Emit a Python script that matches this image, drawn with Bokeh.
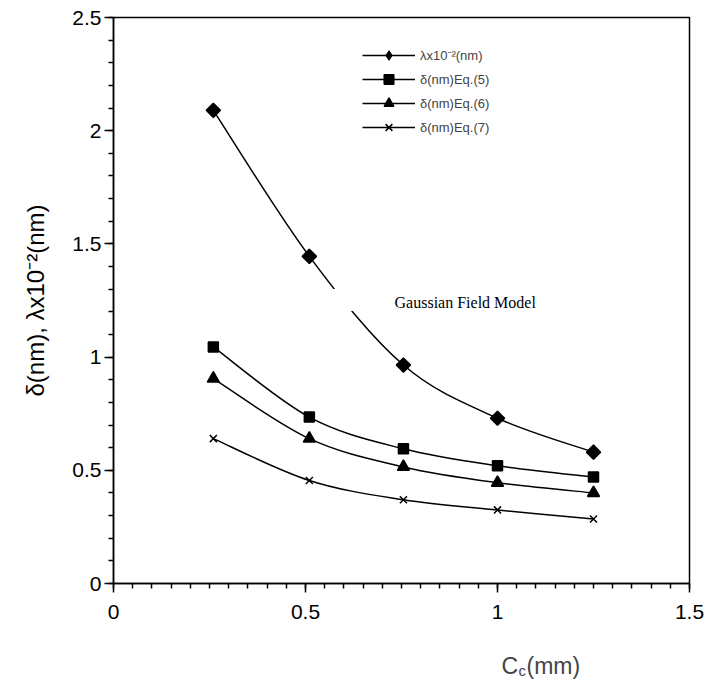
import numpy as np
from bokeh.plotting import figure
from bokeh.layouts import column
from bokeh.models import (FixedTicker, Legend, LegendItem, Label, ColumnDataSource)
from bokeh.embed import file_html
from bokeh.resources import INLINE

# ---- data ----
cc = [0.26, 0.51, 0.755, 1.0, 1.25]
lam = [2.09, 1.445, 0.965, 0.73, 0.58]
eq5 = [1.045, 0.735, 0.595, 0.52, 0.47]
eq6 = [0.905, 0.64, 0.515, 0.445, 0.40]
eq7 = [0.64, 0.455, 0.37, 0.325, 0.285]

series = [
    ("λx10⁻²(nm)", lam, "square", 10, 0.785398),
    ("δ(nm)Eq.(5)", eq5, "square", 10, 0.0),
    ("δ(nm)Eq.(6)", eq6, "triangle", 12, 0.0),
    ("δ(nm)Eq.(7)", eq7, "x", 10, 0.0),
]

FONT = "Liberation Sans"

p = figure(width=725, height=640, x_range=(0, 1.5), y_range=(0, 2.5),
           output_backend="svg", toolbar_location=None,
           min_border_left=113, min_border_right=36,
           min_border_top=17, min_border_bottom=57)
p.grid.visible = False
p.outline_line_color = "black"
p.outline_line_width = 1.5
p.background_fill_color = "white"
p.border_fill_color = "white"

for ax in (p.xaxis[0], p.yaxis[0]):
    ax.axis_line_width = 1.5
    ax.axis_line_color = "black"
    ax.major_tick_line_width = 1.5
    ax.minor_tick_line_width = 1.5
    ax.major_tick_line_color = "black"
    ax.minor_tick_line_color = "black"
    ax.major_tick_in = 0
    ax.major_tick_out = 9
    ax.minor_tick_in = 0
    ax.minor_tick_out = 5
    ax.major_label_text_font = FONT
    ax.major_label_text_font_size = "21px"
    ax.major_label_text_color = "black"
    ax.axis_label_text_font = FONT
    ax.axis_label_text_font_size = "24px"
    ax.axis_label_text_font_style = "normal"
    ax.axis_label_text_color = "black"

p.xaxis[0].ticker = FixedTicker(ticks=[0, 0.5, 1.0, 1.5],
                                minor_ticks=[i * 0.05 for i in range(31)])
p.yaxis[0].ticker = FixedTicker(ticks=[0, 0.5, 1.0, 1.5, 2.0, 2.5],
                                minor_ticks=[i * 0.1 for i in range(26)])
p.xaxis[0].major_label_standoff = 12
p.yaxis[0].major_label_standoff = 3
p.yaxis[0].axis_label = "δ(nm), λx10⁻²(nm)"
p.yaxis[0].axis_label_standoff = 20
p.xaxis[0].axis_label = None


def bezier_parts(xs, ys):
    x = np.asarray(xs, float)
    y = np.asarray(ys, float)
    n = len(x)
    xp = np.concatenate([[x[0]], x, [x[-1]]])
    yp = np.concatenate([[y[0]], y, [y[-1]]])
    d = dict(x0=[], y0=[], x1=[], y1=[], cx0=[], cy0=[], cx1=[], cy1=[])
    for i in range(n - 1):
        j = i + 1
        d["x0"].append(x[i]); d["y0"].append(y[i])
        d["x1"].append(x[i + 1]); d["y1"].append(y[i + 1])
        d["cx0"].append(x[i] + (xp[j + 1] - xp[j - 1]) / 6)
        d["cy0"].append(y[i] + (yp[j + 1] - yp[j - 1]) / 6)
        d["cx1"].append(x[i + 1] - (xp[j + 2] - xp[j]) / 6)
        d["cy1"].append(y[i + 1] - (yp[j + 2] - yp[j]) / 6)
    return ColumnDataSource(d)


items = []
for k, (name, vals, marker, size, ang) in enumerate(series):
    bz = p.bezier(x0="x0", y0="y0", x1="x1", y1="y1", cx0="cx0", cy0="cy0",
                  cx1="cx1", cy1="cy1", source=bezier_parts(cc, vals),
                  line_color="black", line_width=1.5)
    if k == 0:
        # legend glyph for the diamond series (sits under the first marker)
        leg = p.scatter(cc[:1], vals[:1], marker="diamond", size=12,
                        fill_color="black", line_color="black")
    sc = p.scatter(cc, vals, marker=marker, size=size, angle=ang,
                   fill_color="black", line_color="black", line_width=1.5)
    items.append(LegendItem(label=name, renderers=[bz, leg if k == 0 else sc]))

legend = Legend(items=items, location=(249, 444),
                glyph_width=53, glyph_height=24, label_height=24,
                label_standoff=5, spacing=0, padding=0, margin=0,
                border_line_color=None, background_fill_alpha=0,
                label_text_font=FONT, label_text_font_size="13px")
p.add_layout(legend, "center")

# annotation text box (white box, which interrupts the curve behind it)
p.add_layout(Label(x=0.56, y=1.252, text="Gaussian Field Model",
                   text_font="Liberation Serif", text_font_size="16px",
                   text_baseline="alphabetic", text_color="black",
                   text_line_height=0.8,
                   background_fill_color="white",
                   padding=dict(left=66, right=2, top=5, bottom=0)))

# ---- x-axis title strip (C with subscript c) ----
p2 = figure(width=725, height=50, x_range=(0, 725), y_range=(0, 50),
            x_axis_type=None, y_axis_type=None, toolbar_location=None,
            output_backend="svg", min_border=0)
p2.outline_line_color = None
p2.grid.visible = False
p2.background_fill_color = "white"
p2.border_fill_color = "white"
p2.add_layout(Label(x=388, y=25, x_units="screen", y_units="screen",
                    text="C", text_font=FONT, text_font_size="23px",
                    text_baseline="alphabetic"))
p2.add_layout(Label(x=405, y=20, x_units="screen", y_units="screen",
                    text="c", text_font=FONT, text_font_size="15px",
                    text_baseline="alphabetic"))
p2.add_layout(Label(x=413, y=25, x_units="screen", y_units="screen",
                    text="(mm)", text_font=FONT, text_font_size="23px",
                    text_baseline="alphabetic"))

layout = column(p, p2, spacing=0)
open("out.html", "w").write(file_html(layout, INLINE))
